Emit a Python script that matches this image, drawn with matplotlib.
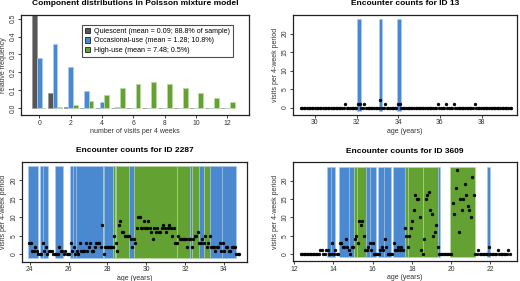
import numpy as np
import matplotlib
matplotlib.use('Agg')
import matplotlib.pyplot as plt
from matplotlib.patches import Patch

plt.rcParams['font.family'] = ['Liberation Sans', 'DejaVu Sans']

# ---------------- data ----------------
visits = [0, 1, 2, 3, 4, 5, 6, 7, 8, 9, 10, 11, 12]
quiescent = [0.914, 0.082, 0.004, 0.0, 0.0, 0.0, 0.0, 0.0, 0.0, 0.0, 0.0, 0.0, 0.0]
occasional = [0.278, 0.356, 0.228, 0.097, 0.031, 0.008, 0.002, 0.0, 0.0, 0.0, 0.0, 0.0, 0.0]
high_use = [0.001, 0.004, 0.016, 0.039, 0.074, 0.110, 0.137, 0.147, 0.137, 0.114, 0.085, 0.058, 0.036]
legend_labels = ['Quiescent (mean = 0.09; 88.8% of sample)',
                 'Occasional-use (mean = 1.28; 10.8%)',
                 'High-use (mean = 7.48; 0.5%)']

period_years = 28 / 365.25

# ID 13
id13_start = 29.31
id13_counts = [
    0, 0, 0, 0, 0, 0, 0, 0, 0, 0, 0, 0, 0, 0, 0, 0, 0, 0, 0, 0,
    0, 0, 0, 0, 0, 0, 0, 0, 1, 0, 0, 0, 0, 0, 0, 0, 1, 1, 0, 0,
    1, 0, 0, 0, 0, 0, 0, 0, 0, 0, 2, 0, 0, 1, 0, 0, 0, 0, 0, 0,
    0, 1, 1, 0, 0, 0, 0, 0, 0, 0, 0, 0, 0, 0, 0, 0, 0, 0, 0, 0,
    0, 0, 0, 0, 0, 0, 1, 0, 0, 0, 0, 1, 0, 0, 0, 0, 1, 0, 0, 0,
    0, 0, 0, 0, 0, 0, 0, 0, 0, 1, 0, 0, 0, 0, 0, 0, 0, 0, 0, 0,
    0, 0, 0, 0, 0, 0, 0, 0, 0, 0, 0, 0, 0]
id13_state = [
    0, 0, 0, 0, 0, 0, 0, 0, 0, 0, 0, 0, 0, 0, 0, 0, 0, 0, 0, 0,
    0, 0, 0, 0, 0, 0, 0, 0, 0, 0, 0, 0, 0, 0, 0, 0, 1, 1, 0, 0,
    0, 0, 0, 0, 0, 0, 0, 0, 0, 0, 1, 0, 0, 0, 0, 0, 0, 0, 0, 0,
    0, 1, 1, 0, 0, 0, 0, 0, 0, 0, 0, 0, 0, 0, 0, 0, 0, 0, 0, 0,
    0, 0, 0, 0, 0, 0, 0, 0, 0, 0, 0, 0, 0, 0, 0, 0, 0, 0, 0, 0,
    0, 0, 0, 0, 0, 0, 0, 0, 0, 0, 0, 0, 0, 0, 0, 0, 0, 0, 0, 0,
    0, 0, 0, 0, 0, 0, 0, 0, 0, 0, 0, 0, 0]
id13_splits = []

# ID 2287
id2287_start = 23.98
id2287_counts = [
    3, 3, 1, 1, 2, 1, 0, 0, 0, 3, 1, 2, 0, 1, 1, 1, 0, 0, 0, 0,
    2, 1, 1, 0, 1, 0, 0, 0, 3, 1, 2, 0, 1, 0, 3, 1, 1, 1, 3, 1,
    2, 3, 1, 1, 2, 3, 3, 3, 2, 8, 0, 2, 2, 2, 2, 2, 2, 5, 3, 1,
    8, 9, 6, 6, 5, 5, 5, 5, 4, 2, 4, 3, 7, 10, 10, 7, 7, 9, 7, 7,
    9, 7, 6, 4, 7, 6, 7, 6, 6, 7, 8, 7, 6, 7, 8, 7, 5, 7, 3, 3,
    5, 4, 4, 4, 4, 4, 2, 4, 4, 2, 4, 5, 5, 6, 3, 3, 4, 3, 5, 2,
    3, 5, 2, 2, 2, 1, 2, 2, 3, 1, 3, 1, 2, 2, 1, 1, 2, 2, 2, 0,
    0, 0]
id2287_state = [
    1, 1, 1, 1, 1, 1, 0, 0, 1, 1, 1, 1, 1, 0, 0, 0, 0, 0, 1, 1,
    1, 1, 1, 0, 0, 0, 0, 0, 1, 1, 1, 1, 1, 1, 1, 1, 1, 1, 1, 1,
    1, 1, 1, 1, 1, 1, 1, 1, 1, 1, 2, 1, 1, 1, 1, 1, 1, 2, 1, 2,
    2, 2, 2, 2, 2, 2, 2, 2, 1, 1, 1, 2, 2, 2, 2, 2, 2, 2, 2, 2,
    2, 2, 2, 2, 2, 2, 2, 2, 2, 2, 2, 2, 2, 2, 2, 2, 2, 2, 2, 2,
    2, 2, 2, 2, 2, 2, 2, 2, 2, 1, 2, 2, 2, 2, 2, 1, 1, 1, 2, 2,
    2, 2, 1, 1, 1, 1, 1, 1, 1, 1, 1, 1, 1, 1, 1, 1, 1, 1, 1, 0,
    0, 0]
id2287_splits = [10, 30, 32, 100, 130]

# ID 3609
id3609_start = 12.34
id3609_counts = [
    0, 0, 0, 0, 0, 0, 0, 0, 0, 0, 0, 0, 0, 1, 1, 0, 0, 1, 1, 0,
    0, 3, 0, 1, 0, 0, 3, 3, 2, 2, 4, 2, 1, 0, 2, 2, 4, 5, 3, 9,
    8, 9, 5, 1, 1, 2, 3, 1, 3, 0, 0, 0, 0, 1, 2, 1, 4, 2, 0, 0,
    0, 0, 3, 1, 1, 2, 1, 2, 1, 7, 5, 2, 5, 7, 9, 12, 16, 15, 15, 10,
    1, 0, 4, 15, 16, 17, 12, 11, 5, 6, 8, 2, 0, 0, 0, 0, 0, 0, 0, 0,
    0, 14, 11, 18, 23, 6, 15, 12, 15, 19, 16, 13, 12, 10, 21, 16, 0, 0, 1, 0,
    0, 0, 0, 0, 0, 2, 0, 0, 0, 0, 0, 1, 0, 0, 0, 0, 0, 0, 1, 0]
id3609_state = [
    0, 0, 0, 0, 0, 0, 0, 0, 0, 0, 0, 0, 0, 0, 0, 0, 0, 0, 1, 1,
    1, 1, 1, 0, 0, 0, 1, 1, 1, 1, 1, 1, 1, 1, 1, 1, 2, 2, 2, 2,
    2, 2, 2, 2, 1, 1, 1, 1, 1, 1, 0, 0, 1, 1, 1, 1, 1, 1, 1, 1,
    0, 0, 1, 1, 1, 1, 1, 1, 1, 1, 2, 2, 2, 2, 2, 2, 2, 2, 2, 2,
    2, 2, 2, 2, 2, 2, 2, 2, 2, 2, 2, 2, 1, 0, 0, 0, 0, 0, 0, 0,
    2, 2, 2, 2, 2, 2, 2, 2, 2, 2, 2, 2, 2, 2, 2, 2, 0, 0, 0, 0,
    0, 0, 0, 0, 0, 1, 0, 0, 0, 0, 0, 0, 0, 0, 0, 0, 0, 0, 0, 0]
id3609_splits = [21, 33, 38, 47, 56, 72, 82]

# ---------------- style ----------------
GRAY = '#575757'
BLUE = '#4a88cf'
GREEN = '#64a133'
GRAY_E = '#9a9a9a'
BLUE_E = '#aacaee'
GREEN_E = '#b9d99e'
TXT = '#333333'

FS_TITLE = 6.0
FS_LABEL = 5.0
FS_TICK = 4.9
FS_LEG = 5.1

fig = plt.figure(figsize=(5.2, 2.81), dpi=100)


def rect(l, r, t, b):
    return [l / 520, 1 - b / 281, (r - l) / 520, (b - t) / 281]


def style(ax):
    for s in ax.spines.values():
        s.set_linewidth(0.9)
        s.set_color('#222222')
    ax.tick_params(direction='out', length=2.2, width=0.6, labelsize=FS_TICK,
                   pad=1.0, colors='#222222', labelcolor=TXT)
    for lab in ax.get_yticklabels():
        lab.set_rotation(90)
        lab.set_va('center')


# ---------- panel 1 ----------
ax1 = fig.add_axes(rect(21, 248.5, 15, 115.3))
x = np.array(visits, dtype=float)
w = 0.3
ax1.bar(x - 0.3, quiescent, width=w, color=GRAY, edgecolor=GRAY_E, linewidth=0.6)
ax1.bar(x, occasional, width=w, color=BLUE, edgecolor=BLUE_E, linewidth=0.6)
ax1.bar(x + 0.3, high_use, width=w, color=GREEN, edgecolor=GREEN_E, linewidth=0.6)
ax1.set_xlim(-1.17, 13.34)
ax1.set_ylim(-0.0408, 0.5208)
ax1.set_xticks([0, 2, 4, 6, 8, 10, 12])
ax1.set_yticks([0.0, 0.1, 0.2, 0.3, 0.4, 0.5])
ax1.set_yticklabels(['0.0', '0.1', '0.2', '0.3', '0.4', '0.5'])
style(ax1)
ax1.set_title('Component distributions in Poisson mixture model', fontsize=FS_TITLE,
              fontweight='bold', pad=7)
ax1.set_xlabel('number of visits per 4 weeks', fontsize=FS_LABEL, color=TXT, labelpad=1)
ax1.set_ylabel('relative frequency', fontsize=FS_LABEL, color=TXT, labelpad=2)
handles = [Patch(facecolor=GRAY, edgecolor='black', linewidth=0.5),
           Patch(facecolor=BLUE, edgecolor='black', linewidth=0.5),
           Patch(facecolor=GREEN, edgecolor='black', linewidth=0.5)]
leg = ax1.legend(handles, legend_labels, loc='upper right', bbox_to_anchor=(0.934, 0.9),
                 fontsize=FS_LEG, frameon=True, fancybox=False, handlelength=0.75,
                 handleheight=0.75, handletextpad=0.6, borderpad=0.45, labelspacing=0.3,
                 borderaxespad=0)
leg.get_frame().set_edgecolor('#222222')
leg.get_frame().set_linewidth(0.8)


# ---------- time series panels ----------
def ts_panel(ax, start, counts, state, splits, xlim, xticks, title):
    n = len(counts)
    ages = start + np.arange(n) * period_years
    pad = 0.28 * period_years
    i = 0
    while i < n:
        s = state[i]
        j = i
        while j + 1 < n and state[j + 1] == s and (j + 1) not in splits:
            j += 1
        if s in (1, 2):
            left = ages[i] - period_years / 2 - pad
            right = ages[j] + period_years / 2 + pad
            ax.bar(left, 24.7, width=right - left, bottom=-0.9, align='edge',
                   color=BLUE if s == 1 else GREEN,
                   edgecolor=BLUE_E if s == 1 else GREEN_E, linewidth=0.5, zorder=1)
        i = j + 1
    ax.plot(ages, counts, 'o', color='black', ms=2.0, mew=0.4, mec='black', zorder=3)
    ax.set_xlim(*xlim)
    ax.set_ylim(-2, 25)
    ax.set_xticks(xticks)
    ax.set_yticks([0, 5, 10, 15, 20])
    style(ax)
    ax.set_title(title, fontsize=FS_TITLE, fontweight='bold', pad=7)
    ax.set_xlabel('age (years)', fontsize=FS_LABEL, color=TXT, labelpad=1)
    ax.set_ylabel('visits per 4-week period', fontsize=FS_LABEL, color=TXT, labelpad=2)


ax2 = fig.add_axes(rect(293.3, 516.7, 15, 115))
ts_panel(ax2, id13_start, id13_counts, id13_state, id13_splits, (28.96, 39.69),
         [30, 32, 34, 36, 38], 'Encounter counts for ID 13')

ax3 = fig.add_axes(rect(21.7, 247.3, 161.7, 261.7))
ts_panel(ax3, id2287_start, id2287_counts, id2287_state, id2287_splits, (23.59, 35.2),
         [24, 26, 28, 30, 32, 34], 'Encounter counts for ID 2287')

ax4 = fig.add_axes(rect(293.3, 516.7, 162.3, 261.3))
ts_panel(ax4, id3609_start, id3609_counts, id3609_state, id3609_splits, (11.95, 23.36),
         [12, 14, 16, 18, 20, 22], 'Encounter counts for ID 3609')

fig.savefig('out.png', dpi=100)
